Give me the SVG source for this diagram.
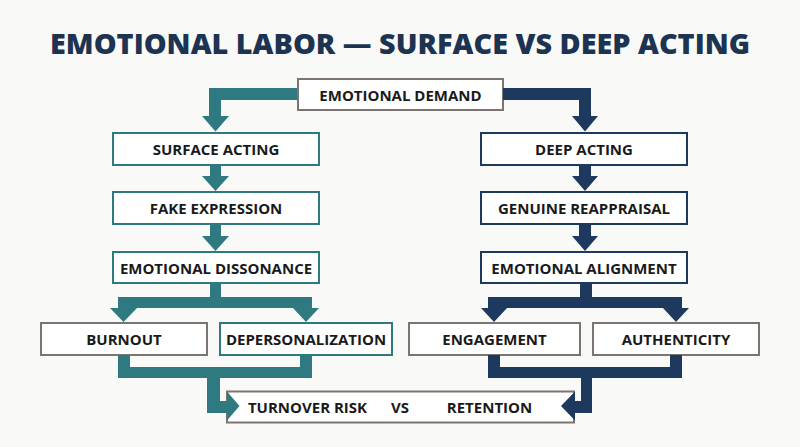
<svg xmlns="http://www.w3.org/2000/svg" width="800" height="447" viewBox="0 0 800 447">
<style>
.bg{fill:#f9f9f8}
.title{font-family:"Open Sans","Liberation Sans",sans-serif;font-weight:800;font-size:28px;fill:#1c3352;text-anchor:middle}
.lbl{font-family:"Open Sans","Liberation Sans",sans-serif;font-weight:700;font-size:15px;fill:#1a1a1a;text-anchor:middle;dominant-baseline:central}
.bx{fill:#ffffff;stroke-width:2}
.g{stroke:#7c7471}
.t{stroke:#2f7a80}
.n{stroke:#1d3a5e}
.tc{fill:#2f7a80}
.nc{fill:#1d3a5e}
</style>
<rect class="bg" x="0" y="0" width="800" height="447"/>
<text class="title" x="400" y="54" textLength="700" lengthAdjust="spacingAndGlyphs">EMOTIONAL LABOR — SURFACE VS DEEP ACTING</text>

<g id="emotional-demand"><rect class="bx g" x="298" y="79" width="205" height="31"/><text class="lbl" x="400.5" y="94.5">EMOTIONAL DEMAND</text></g>
<g id="surface-acting"><rect class="bx t" x="113" y="133" width="206" height="32"/><text class="lbl" x="216" y="149">SURFACE ACTING</text></g>
<g id="fake-expression"><rect class="bx t" x="113" y="192" width="206" height="32"/><text class="lbl" x="216" y="208">FAKE EXPRESSION</text></g>
<g id="emotional-dissonance"><rect class="bx t" x="113" y="252" width="206" height="31"/><text class="lbl" x="216" y="267.5">EMOTIONAL DISSONANCE</text></g>
<g id="deep-acting"><rect class="bx n" x="481" y="133" width="206" height="32"/><text class="lbl" x="584" y="149">DEEP ACTING</text></g>
<g id="genuine-reappraisal"><rect class="bx n" x="481" y="192" width="206" height="32"/><text class="lbl" x="584" y="208">GENUINE REAPPRAISAL</text></g>
<g id="emotional-alignment"><rect class="bx n" x="481" y="252" width="206" height="31"/><text class="lbl" x="584" y="267.5">EMOTIONAL ALIGNMENT</text></g>
<g id="burnout"><rect class="bx g" x="41" y="323" width="166" height="32"/><text class="lbl" x="124" y="339">BURNOUT</text></g>
<g id="depersonalization"><rect class="bx t" x="220" y="323" width="172" height="32"/><text class="lbl" x="306" y="339">DEPERSONALIZATION</text></g>
<g id="engagement"><rect class="bx g" x="409" y="323" width="171" height="32"/><text class="lbl" x="494.5" y="339">ENGAGEMENT</text></g>
<g id="authenticity"><rect class="bx g" x="593" y="323" width="166" height="32"/><text class="lbl" x="676" y="339">AUTHENTICITY</text></g>
<g id="outcome"><rect class="bx g" x="227" y="391.5" width="347" height="31"/><text class="lbl" x="307.5" y="407">TURNOVER RISK</text><text class="lbl" x="400" y="407">VS</text><text class="lbl" x="489.5" y="407">RETENTION</text></g>

<g id="connectors">
<g class="tc">
<path d="M297,88 H209 V116 H202 L215.5,131.5 L229,116 H221 V100 H297 Z"/>
<path d="M210,165 H221 V176 H229 L215.5,191 L202,176 H210 Z"/>
<path d="M210,224 H221 V236 H229 L215.5,251 L202,236 H210 Z"/>
<path d="M210,283 H221 V297 H312 V308 H319 L306,322 L293,308 H137 L123.5,322 L110,308 H118 V297 H210 Z"/>
<path d="M118,355 H130 V367 H300 V355 H312 V378 H220 V401 H227 V391.5 L239.5,406 L227,420.5 V413 H207 V378 H118 Z"/>
</g>
<g class="nc">
<path d="M503,88 H591 V116 H598 L585,131.5 L572,116 H579 V100 H503 Z"/>
<path d="M579,165 H591 V176 H598 L585,191 L572,176 H579 Z"/>
<path d="M579,224 H591 V236 H598 L585,251 L572,236 H579 Z"/>
<path d="M580,283 H592 V297 H682 V308 H689 L676,322 L663,308 H507 L494,322 L481,308 H488 V297 H580 Z"/>
<path d="M488,355 H500 V367 H670 V355 H682 V378 H592 V413 H575 V420.5 L561,406 L575,391.5 V401 H581 V378 H488 Z"/>
</g>
</g>
</svg>
